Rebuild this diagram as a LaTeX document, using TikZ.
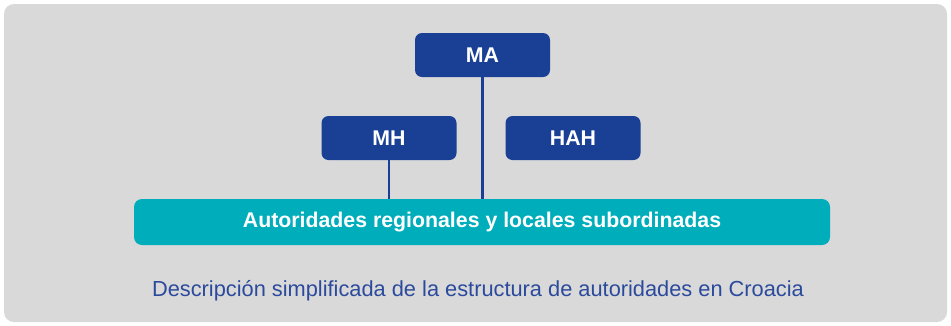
\documentclass[tikz,border=0pt]{standalone}
\usepackage{fontspec}
\setmainfont{Liberation Sans}
\usetikzlibrary{calc}

\definecolor{orgblue}{HTML}{1A4096}
\definecolor{orgteal}{HTML}{00ADBB}
\definecolor{panelgray}{HTML}{D9D9D9}
\definecolor{captionblue}{HTML}{2B4A9C}

\begin{document}
\begin{tikzpicture}[x=1pt,y=-1pt,
		orgbox/.style={fill=orgblue, rounded corners=7pt, minimum width=135pt, minimum height=44pt, inner sep=0pt, text=white, font=\fontsize{21.3}{24}\selectfont\bfseries},
		tealbar/.style={fill=orgteal, rounded corners=8pt, minimum width=696pt, minimum height=46pt, inner sep=0pt, text=white, font=\fontsize{21.3}{24}\selectfont\bfseries},
		link/.style={draw=orgblue, line width=2.6pt}]
		
		% panel
		\useasboundingbox (0,0) rectangle (951,325);
		\fill[white] (0,0) rectangle (951,325);
		\fill[panelgray, rounded corners=10pt] (4,4) rectangle (947,322);
		
		% boxes
		\node[orgbox] (ma) at (482.5,55) {MA};
		\node[orgbox] (mh) at (389,138) {MH};
		\node[orgbox] (hah) at (573,138) {HAH};
		\node[tealbar] (autoridades) at (482,222) {Autoridades regionales y locales subordinadas};
		
		% connectors
		\draw[link] (ma.south) -- (ma.south |- autoridades.north);
		\draw[link] (mh.south) -- (mh.south |- autoridades.north);
		
		% caption
		\node[text=captionblue, font=\fontsize{21.8}{24}\selectfont] (caption) at (478,291) {Descripción simplificada de la estructura de autoridades en Croacia};
		
\end{tikzpicture}
\end{document}
